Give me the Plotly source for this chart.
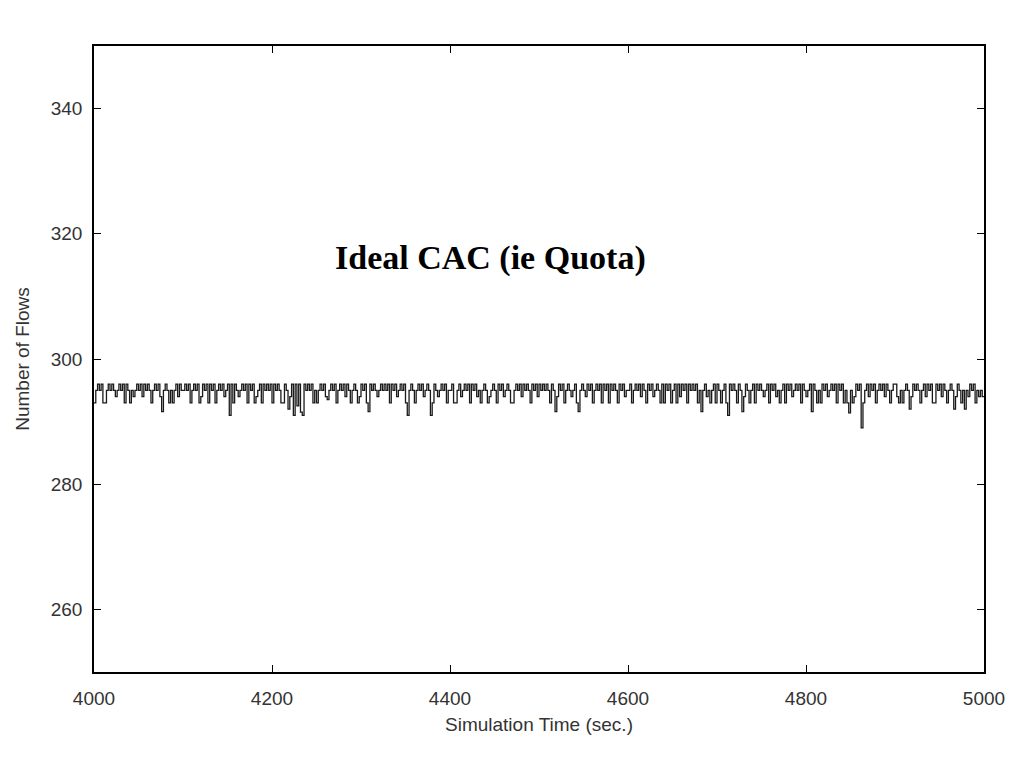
import plotly.graph_objects as go

# Fluctuation pattern, one string per 100 s segment (digit = drop below 296 flows)
segments = [
    "31010301010121010301312101020101310102010131310201",
    "10103101012010301031010210103012101030101210301010",
    "20101310102010301201010313101020101031010201310102",
    "01031010121010103010210103010131010210103012101031",
    "10301021010301021310102101301021010310102010130102",
    "01010130102010310121030101201031010201030101301021",
    "10310102013010210130201031010201030101031010210103",
    "01010310101301020131030101210301021010301021010301",
    "21030101301021010301031301020101310201031010201310",
    "02013101020101310201031010201310102013101201031012",
]
seg_start = 4000
seg_len = 100
base_level = 296

# Deeper dips: (time s, flows)
dip_times = [4012, 4076, 4108, 4119, 4153, 4181, 4201, 4212, 4218, 4224, 4228, 4232, 4235,
             4263, 4297, 4308, 4353, 4378, 4406, 4442, 4469, 4519, 4528, 4545, 4570,
             4620, 4640, 4654, 4682, 4693, 4705, 4713, 4728, 4770, 4806, 4812, 4848,
             4852, 4863, 4894, 4904, 4916, 4945, 4967, 4978, 4994]
dip_values = [293, 291.6, 293, 293, 291, 293, 293, 293, 292, 291, 292.5, 291.5, 291,
              293.5, 293, 291.6, 291, 291, 293, 293, 293, 291.6, 293, 291.6, 293,
              293, 293, 293, 291.6, 293, 293, 291, 291.6, 293, 291.6, 293, 291.4,
              293, 289, 293, 293, 292, 293, 292, 292, 294]

x_vals, y_vals = [], []
for k, s in enumerate(segments):
    n = len(s)
    for i, ch in enumerate(s):
        x_vals.append(seg_start + k * seg_len + i * seg_len / n)
        y_vals.append(base_level - int(ch))
x_vals.append(5000)
y_vals.append(294)

for t, v in zip(dip_times, dip_values):
    idx = min(range(len(x_vals)), key=lambda j: abs(x_vals[j] - t))
    y_vals[idx] = min(y_vals[idx], v)

x_ticks = [4000, 4200, 4400, 4600, 4800, 5000]
y_ticks = [260, 280, 300, 320, 340]

label_font = dict(family="Liberation Sans", size=19, color="#333333")

fig = go.Figure()
fig.add_trace(go.Scatter(x=x_vals, y=y_vals, mode="lines", line=dict(color="#1a1a1a", width=1.3, shape="hv"),
                         showlegend=False, hoverinfo="skip"))

fig.add_annotation(x=4445, y=316.2, text="<b>Ideal CAC (ie Quota)</b>", showarrow=False,
                   font=dict(family="Liberation Serif", size=34, color="black"))

axis_common = dict(showgrid=False, zeroline=False, showline=True, linecolor="black", linewidth=1.5,
                   mirror="allticks", ticks="inside", ticklen=7, tickcolor="black", tickwidth=1,
                   tickfont=label_font)

fig.update_layout(
    width=1024, height=768,
    margin=dict(l=86, r=48, t=38, b=104),
    plot_bgcolor="white", paper_bgcolor="white",
    xaxis=dict(range=[4000, 5000], tickvals=x_ticks, ticktext=[str(v) for v in x_ticks],
               title=dict(text="Simulation Time (sec.)", font=label_font, standoff=10),
               ticklabelstandoff=8, **axis_common),
    yaxis=dict(range=[250, 350], tickvals=y_ticks, ticktext=[str(v) for v in y_ticks],
               title=dict(text="Number of Flows", font=label_font, standoff=16),
               ticklabelstandoff=6, **axis_common),
)

fig.write_html("out.html")
